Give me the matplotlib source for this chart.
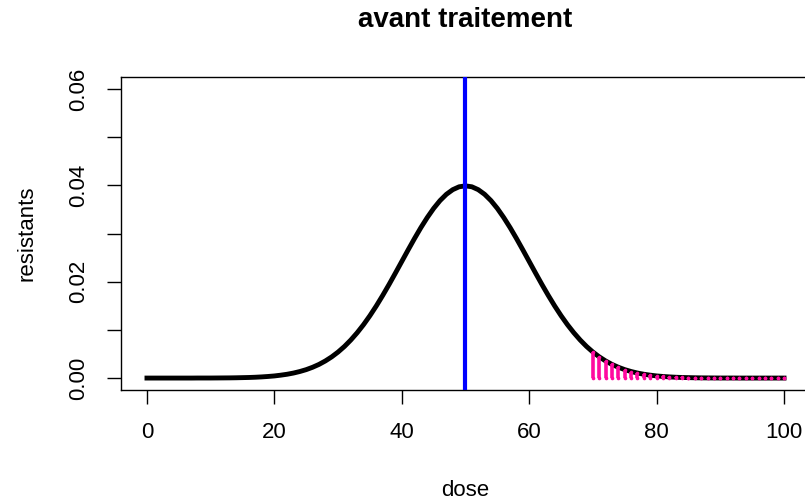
import matplotlib.pyplot as plt

plt.rcParams['font.family'] = ['Liberation Sans', 'DejaVu Sans']

# dose de 0 a 100, densite
dose = list(range(0, 101))
densite = [
    0.00000, 0.00000, 0.00000, 0.00000, 0.00000, 0.00000, 0.00000, 0.00000, 0.00001, 0.00001,
    0.00001, 0.00002, 0.00003, 0.00004, 0.00006, 0.00009, 0.00012, 0.00017, 0.00024, 0.00033,
    0.00044, 0.00060, 0.00079, 0.00104, 0.00136, 0.00175, 0.00224, 0.00283, 0.00355, 0.00440,
    0.00540, 0.00656, 0.00790, 0.00941, 0.01109, 0.01295, 0.01497, 0.01714, 0.01942, 0.02179,
    0.02420, 0.02661, 0.02897, 0.03123, 0.03332, 0.03521, 0.03683, 0.03814, 0.03910, 0.03970,
    0.03989,
    0.03970, 0.03910, 0.03814, 0.03683, 0.03521, 0.03332, 0.03123, 0.02897, 0.02661, 0.02420,
    0.02179, 0.01942, 0.01714, 0.01497, 0.01295, 0.01109, 0.00941, 0.00790, 0.00656, 0.00540,
    0.00440, 0.00355, 0.00283, 0.00224, 0.00175, 0.00136, 0.00104, 0.00079, 0.00060, 0.00044,
    0.00033, 0.00024, 0.00017, 0.00012, 0.00009, 0.00006, 0.00004, 0.00003, 0.00002, 0.00001,
    0.00001, 0.00001, 0.00000, 0.00000, 0.00000, 0.00000, 0.00000, 0.00000, 0.00000, 0.00000,
]
seuil = 70
moyenne = 50

x_ticks = [0, 20, 40, 60, 80, 100]
y_ticks = [0.00, 0.01, 0.02, 0.03, 0.04, 0.05, 0.06]
y_labels = ['0.00', '', '0.02', '', '0.04', '', '0.06']

rose = '#ff0aa0'

fig = plt.figure(figsize=(8.05, 5.03), dpi=100)
ax = fig.add_axes([0.1509, 0.2254, 0.8547, 0.6207])

ax.plot(dose, densite, color='black', lw=3.5)

# barres roses pour les doses >= 70 (type "h", bouts arrondis)
queue_x = [d for d in dose if d >= seuil]
queue_y = [densite[d] for d in queue_x]
ax.vlines(queue_x, 0, queue_y, color=rose, lw=2.6, zorder=3)
ax.plot(queue_x, queue_y, 'o', color=rose, ms=2.6, mew=0, zorder=3)
ax.plot(queue_x, [0] * len(queue_x), 'o', color=rose, ms=2.6, mew=0, zorder=3)

ax.axvline(moyenne, color='#0000ff', lw=3, zorder=4)

ax.set_xlim(-4, 104)
ax.set_ylim(-0.0024, 0.0624)
ax.set_xticks(x_ticks)
ax.set_yticks(y_ticks)
ax.set_yticklabels(y_labels, rotation=90, va='center')
ax.tick_params(length=10, width=1, labelsize=16, pad=13)
ax.tick_params(axis='x', pad=13)
for s in ax.spines.values():
    s.set_linewidth(1)

fig.text(465 / 805, 1 - 20 / 503, 'avant traitement', fontsize=20,
         fontweight='bold', ha='center', va='center')
fig.text(465 / 805, 1 - 490 / 503, 'dose', fontsize=16, ha='center', va='center')
fig.text(27 / 805, 1 - 233 / 503, 'resistants', fontsize=16, ha='center',
         va='center', rotation=90)

fig.savefig('out.png', dpi=100)
